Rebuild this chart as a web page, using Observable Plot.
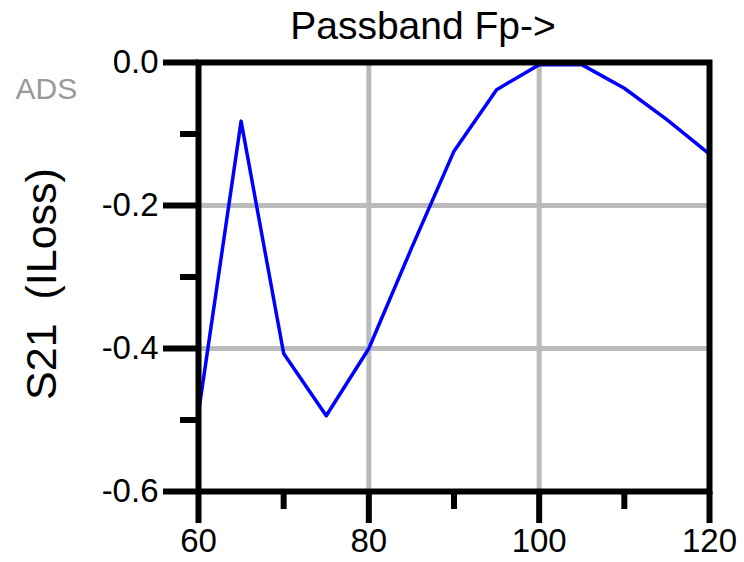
<!DOCTYPE html>
<html>
<head>
<meta charset="utf-8">
<script src="https://cdn.jsdelivr.net/npm/d3@7"></script>
<script src="https://cdn.jsdelivr.net/npm/@observablehq/plot@0.6"></script>
<style>
  html, body { margin: 0; padding: 0; background: #fff; }
</style>
</head>
<body>
<div id="chart"></div>
<script>
const freq = [60, 65, 70, 75, 80, 85, 90, 95, 100, 105, 110, 115, 120];
const s21 = [-0.49, -0.082, -0.407, -0.494, -0.40, -0.26, -0.124, -0.038, -0.003, -0.003, -0.036, -0.08, -0.128];
const xMajor = [60, 80, 100, 120];
const xMinor = [70, 90, 110];
const xTickLabels = ["60", "80", "100", "120"];
const yMajor = [0, -0.2, -0.4, -0.6];
const yMinor = [-0.1, -0.3, -0.5];
const yTickLabels = ["0.0", "-0.2", "-0.4", "-0.6"];
const xGrid = [80, 100];
const yGrid = [-0.2, -0.4];
const title = "Passband Fp->";
const yLabel = "S21  (ILoss)";
const badge = "ADS";

const data = freq.map((f, i) => ({f, v: s21[i]}));
const font = "'Liberation Sans', Arial, sans-serif";

const chart = Plot.plot({
  width: 744,
  height: 562,
  marginLeft: 198,
  marginRight: 35,
  marginTop: 62,
  marginBottom: 71,
  style: {fontFamily: font, background: "#fff", color: "#000"},
  x: {domain: [60, 120]},
  y: {domain: [-0.6, 0]},
  marks: [
    Plot.gridX(xGrid, {stroke: "#bbbbbb", strokeWidth: 5, strokeOpacity: 1}),
    Plot.gridY(yGrid, {stroke: "#bbbbbb", strokeWidth: 5, strokeOpacity: 1}),
    Plot.line(data, {x: "f", y: "v", stroke: "#0000ff", strokeWidth: 3.5}),
    Plot.frame({stroke: "#000", strokeWidth: 6}),
    Plot.axisX(xMajor, {tickSize: 32, tickPadding: 5, strokeWidth: 6, fontSize: 33, label: null,
      tickFormat: d => xTickLabels[xMajor.indexOf(d)]}),
    Plot.axisX(xMinor, {tickSize: 18, strokeWidth: 6, label: null, tickFormat: () => ""}),
    Plot.axisY(yMajor, {tickSize: 35, tickPadding: 5, strokeWidth: 6, fontSize: 33, label: null,
      tickFormat: d => yTickLabels[yMajor.indexOf(d)]}),
    Plot.axisY(yMinor, {tickSize: 18, strokeWidth: 6, label: null, tickFormat: () => ""}),
    Plot.text([title], {frameAnchor: "top", text: d => d, lineAnchor: "bottom", dx: -31, dy: -24, fontSize: 39, fill: "#000"}),
    Plot.text([badge], {frameAnchor: "top-left", text: d => d, textAnchor: "start", lineAnchor: "bottom", dx: -183, dy: 36, fontSize: 30, fill: "#999"}),
    Plot.text([yLabel], {frameAnchor: "left", text: d => d, rotate: -90, textAnchor: "middle", lineAnchor: "bottom", dx: -143, dy: 7, fontSize: 43, fill: "#000"})
  ]
});
document.getElementById("chart").appendChild(chart);
</script>
</body>
</html>
